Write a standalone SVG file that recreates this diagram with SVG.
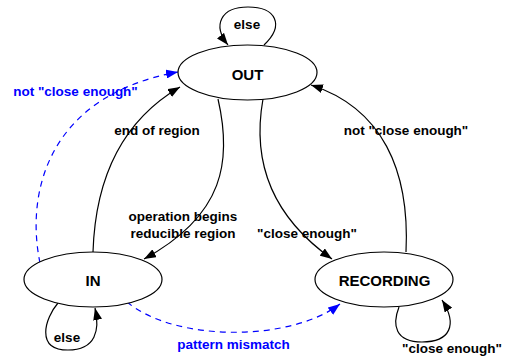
<svg xmlns="http://www.w3.org/2000/svg" width="507" height="360" viewBox="0 0 507 360">
  <style>
    .state { fill: #ffffff; stroke: #000000; stroke-width: 1.2; }
    .name { font-family: "Liberation Sans", Arial, sans-serif; font-weight: bold; font-size: 15px; text-anchor: middle; fill: #000000; }
    .lbl { font-family: "Liberation Sans", Arial, sans-serif; font-weight: bold; font-size: 13.5px; text-anchor: middle; fill: #000000; }
    .lbl.blue { fill: #0000ff; }
    .edge { fill: none; stroke: #000000; stroke-width: 1.2; marker-end: url(#arrow); }
    .edge.dash { stroke: #0000ff; stroke-dasharray: 6 5; marker-end: url(#arrowBlue); }
  </style>
  <defs>
    <marker id="arrow" markerUnits="userSpaceOnUse" markerWidth="13" markerHeight="9" refX="12" refY="4.5" orient="auto">
      <path d="M0,0 L12,4.5 L0,9 z" fill="#000000"/>
    </marker>
    <marker id="arrowBlue" markerUnits="userSpaceOnUse" markerWidth="13" markerHeight="9" refX="12" refY="4.5" orient="auto">
      <path d="M0,0 L12,4.5 L0,9 z" fill="#0000ff"/>
    </marker>
  </defs>

  <rect width="507" height="360" fill="#ffffff"/>

  <g id="connectors">
    <!-- OUT self loop -->
    <path class="edge" d="M264,45 C285,25 276,7 248,7 C221,7 212,25 228,45"/>
    <!-- IN -> OUT -->
    <path class="edge" d="M93,252 C95,190 115,125 180,87"/>
    <!-- OUT -> IN -->
    <path class="edge" d="M218,99 C232,160 225,215 144,259"/>
    <!-- OUT -> RECORDING -->
    <path class="edge" d="M263,99 C252,160 270,215 332,259"/>
    <!-- RECORDING -> OUT -->
    <path class="edge" d="M406,252 C410,170 382,108 311,85"/>
    <!-- IN -> OUT (dashed) -->
    <path class="edge dash" d="M40,263 C25,190 50,95 178,72"/>
    <!-- IN -> RECORDING (dashed) -->
    <path class="edge dash" d="M127,302 C175,342 290,342 340,304"/>
    <!-- IN self loop -->
    <path class="edge" d="M58,303 C45,318 35,350 68,350 C96,350 100,330 95,308"/>
    <!-- RECORDING self loop -->
    <path class="edge" d="M399,307 C392,325 395,342 422,342 C450,342 458,325 442,300"/>
  </g>

  <g id="labels">
    <text class="lbl" x="247" y="29">else</text>
    <text class="lbl blue" x="75.5" y="96">not "close enough"</text>
    <text class="lbl" x="157" y="135">end of region</text>
    <text class="lbl" x="183" y="221">operation begins</text>
    <text class="lbl" x="183" y="238">reducible region</text>
    <text class="lbl" x="307" y="238">"close enough"</text>
    <text class="lbl" x="406" y="135">not "close enough"</text>
    <text class="lbl" x="67" y="342">else</text>
    <text class="lbl" x="452" y="353">"close enough"</text>
    <text class="lbl blue" x="233.5" y="349">pattern mismatch</text>
  </g>

  <g id="node-out">
    <ellipse class="state" cx="247.5" cy="72.5" rx="69.5" ry="27.5"/>
    <text class="name" x="247.5" y="80">OUT</text>
  </g>
  <g id="node-in">
    <ellipse class="state" cx="93" cy="279.5" rx="69" ry="27.5"/>
    <text class="name" x="93" y="286">IN</text>
  </g>
  <g id="node-recording">
    <ellipse class="state" cx="384" cy="279.5" rx="69" ry="27.5"/>
    <text class="name" x="384.5" y="286">RECORDING</text>
  </g>
</svg>
